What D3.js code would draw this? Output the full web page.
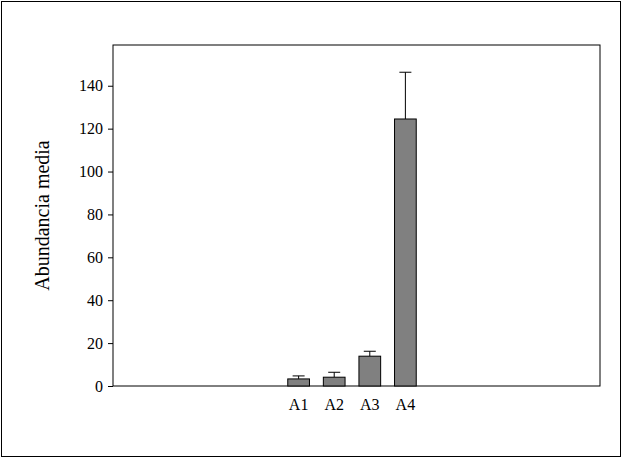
<!DOCTYPE html><html><head><meta charset="utf-8"><script src="https://cdn.jsdelivr.net/npm/d3@7"></script>
<style>body{margin:0;background:#fff}text{font-family:"Liberation Serif","Times New Roman",serif}</style></head><body>
<script>
const categories=["A1","A2","A3","A4"];
const means=[3.3,4.1,13.9,124.5];
const errors=[1.4,2.3,2.3,21.8];
const yTicks=[0,20,40,60,80,100,120,140];
const W=622,H=458;
const svg=d3.select("body").append("svg").attr("width",W).attr("height",H);
svg.append("rect").attr("x",1.5).attr("y",1.5).attr("width",W-3).attr("height",H-3).attr("fill","none").attr("stroke","#000");
const L=113,R=600,T=45,B=386;
const y=d3.scaleLinear().domain([0,159]).range([B,T]);
const x=d3.scaleBand().domain(categories).range([281,423]).paddingInner(0.39).paddingOuter(0.19);
svg.append("rect").attr("x",L).attr("y",T).attr("width",R-L).attr("height",B-T).attr("fill","none").attr("stroke","#000");
const ya=svg.append("g").attr("transform",`translate(${L},0)`).call(d3.axisLeft(y).tickValues(yTicks).tickSize(5).tickSizeOuter(0));
ya.select(".domain").remove();
ya.selectAll("text").attr("font-size",16).attr("fill","#000").attr("dx",-2);
const g=svg.append("g");
categories.forEach((c,i)=>{
  const cx=x(c)+x.bandwidth()/2;
  g.append("line").attr("x1",cx).attr("x2",cx).attr("y1",y(means[i])).attr("y2",y(means[i]+errors[i])).attr("stroke","#000");
  g.append("line").attr("x1",cx-6).attr("x2",cx+6).attr("y1",y(means[i]+errors[i])).attr("y2",y(means[i]+errors[i])).attr("stroke","#000");
  g.append("rect").attr("x",x(c)).attr("y",y(means[i])).attr("width",x.bandwidth()).attr("height",B-y(means[i])).attr("fill","#808080").attr("stroke","#000");
  g.append("text").attr("x",cx).attr("y",B+24).attr("text-anchor","middle").attr("font-size",16).text(c);
});
svg.append("text").attr("transform",`translate(49,${(T+B)/2}) rotate(-90)`).attr("text-anchor","middle").attr("font-size",20).text("Abundancia media");
</script></body></html>
